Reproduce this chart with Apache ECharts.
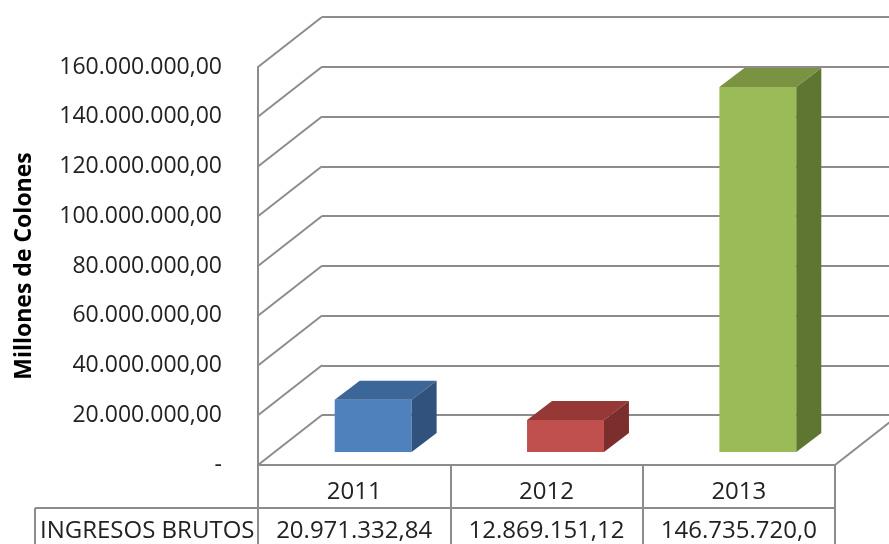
<!DOCTYPE html>
<html>
<head>
<meta charset="utf-8">
<script src="https://cdn.jsdelivr.net/npm/echarts@6/dist/echarts.min.js"></script>
<style>
  html, body { margin: 0; padding: 0; background: #fff; }
  #main { width: 889px; height: 544px; }
</style>
</head>
<body>
<div id="main"></div>
<script>
// datos
var years = ['2011', '2012', '2013']
var ingresos = [20971332.84, 12869151.12, 146735720.0]
var tableLabels = ['20.971.332,84', '12.869.151,12', '146.735.720,0']
var rowName = 'INGRESOS BRUTOS'
var yMax = 160000000
var yStep = 20000000

// estilos
var FONT = 'Open Sans'
var GRID_COLOR = '#8c8c8c'
var front = ['#4F81BD', '#C0504D', '#9BBB59']
var topC = ['#3D6698', '#953836', '#7A9342']
var sideC = ['#30527C', '#7C2E2C', '#5F7633']
var WALL_DX = 64, WALL_DY = 50     // profundidad de las paredes
var BAR_DX = 25, BAR_DY = 19       // profundidad de la barra
var BAR_SHIFT_X = 19, BAR_SHIFT_Y = 13

function fmt(v) {
  if (v === 0) return '-'
  var s = Math.round(v).toString().replace(/\B(?=(\d{3})+(?!\d))/g, '.')
  return s + ',00'
}

var chart = echarts.init(document.getElementById('main'))

chart.setOption({
  animation: false,
  grid: [
    { left: 258, right: 54, top: 67, bottom: 79 },
    { left: 322, right: 0, top: 17, bottom: 129 }
  ],
  xAxis: [{
    type: 'category',
    gridIndex: 0,
    data: years,
    axisLine: { lineStyle: { color: GRID_COLOR, width: 2 } },
    axisTick: { show: true, length: 82, interval: 0, lineStyle: { color: GRID_COLOR, width: 2 } },
    axisLabel: { margin: 15, fontFamily: FONT, fontSize: 24, color: '#222' }
  }, {
    type: 'category',
    gridIndex: 1,
    data: years,
    show: false
  }],
  yAxis: [{
    type: 'value',
    gridIndex: 0,
    min: 0,
    max: yMax,
    interval: yStep,
    name: 'Millones de Colones',
    nameLocation: 'middle',
    nameRotate: 90,
    nameGap: 222,
    nameTextStyle: { fontFamily: FONT, fontSize: 23, fontWeight: 'bold', color: '#000' },
    axisLine: { show: true, lineStyle: { color: GRID_COLOR, width: 2 } },
    axisTick: { show: false },
    splitLine: { show: false },
    axisLabel: { margin: 36, fontFamily: FONT, fontSize: 23, color: '#222', formatter: fmt }
  }, {
    type: 'value',
    gridIndex: 1,
    min: 0,
    max: yMax,
    interval: yStep,
    axisLine: { show: false },
    axisTick: { show: false },
    axisLabel: { show: false },
    splitLine: { show: true, lineStyle: { color: GRID_COLOR, width: 2 } }
  }],
  graphic: [
    { type: 'line', shape: { x1: 35, y1: 508, x2: 835, y2: 508 }, style: { stroke: GRID_COLOR, lineWidth: 2 } },
    { type: 'line', shape: { x1: 35, y1: 508, x2: 35, y2: 548 }, style: { stroke: GRID_COLOR, lineWidth: 2 } },
    {
      type: 'text', x: 40, y: 531,
      style: { text: rowName, font: '24px "' + FONT + '"', fill: '#222', verticalAlign: 'middle' }
    }
  ],
  series: [
    // diagonales de la pared lateral y del piso
    {
      type: 'custom',
      xAxisIndex: 0,
      yAxisIndex: 0,
      silent: true,
      data: (function () {
        var d = []
        for (var v = 0; v <= yMax; v += yStep) d.push([0, v])
        return d
      })(),
      renderItem: function (params, api) {
        var cs = params.coordSys
        var y = api.coord([0, api.value(1)])[1]
        var style = { stroke: GRID_COLOR, lineWidth: 2 }
        var kids = [{
          type: 'line',
          shape: { x1: cs.x, y1: y, x2: cs.x + WALL_DX, y2: y - WALL_DY },
          style: style
        }]
        if (api.value(1) === 0) {
          kids.push({
            type: 'line',
            shape: { x1: cs.x + cs.width, y1: y, x2: cs.x + cs.width + WALL_DX, y2: y - WALL_DY },
            style: style
          })
        }
        return { type: 'group', children: kids }
      }
    },
    // barras 3D
    {
      type: 'custom',
      xAxisIndex: 0,
      yAxisIndex: 0,
      z: 5,
      data: ingresos.map(function (v, i) { return [i, v] }),
      renderItem: function (params, api) {
        var i = api.value(0)
        var top = api.coord([i, api.value(1)])
        var base = api.coord([i, 0])
        var w = api.size([1, 0])[0] * 0.4
        var x0 = top[0] + BAR_SHIFT_X - w / 2
        var x1 = x0 + w
        var yt = top[1] - BAR_SHIFT_Y
        var yb = base[1] - BAR_SHIFT_Y
        return {
          type: 'group',
          children: [{
            type: 'rect',
            shape: { x: x0, y: yt, width: w, height: yb - yt },
            style: { fill: front[i] }
          }, {
            type: 'polygon',
            shape: { points: [[x0, yt], [x1, yt], [x1 + BAR_DX, yt - BAR_DY], [x0 + BAR_DX, yt - BAR_DY]] },
            style: { fill: topC[i] }
          }, {
            type: 'polygon',
            shape: { points: [[x1, yt], [x1 + BAR_DX, yt - BAR_DY], [x1 + BAR_DX, yb - BAR_DY], [x1, yb]] },
            style: { fill: sideC[i] }
          }]
        }
      }
    },
    // fila de la tabla de datos
    {
      type: 'custom',
      xAxisIndex: 0,
      yAxisIndex: 0,
      silent: true,
      data: tableLabels.map(function (t, i) { return [i, 0] }),
      renderItem: function (params, api) {
        var i = api.value(0)
        var p = api.coord([i, 0])
        return {
          type: 'text',
          style: {
            text: tableLabels[i],
            x: p[0],
            y: p[1] + 66,
            align: 'center',
            verticalAlign: 'middle',
            font: '24px "' + FONT + '"',
            fill: '#222'
          }
        }
      }
    }
  ]
})
</script>
</body>
</html>
